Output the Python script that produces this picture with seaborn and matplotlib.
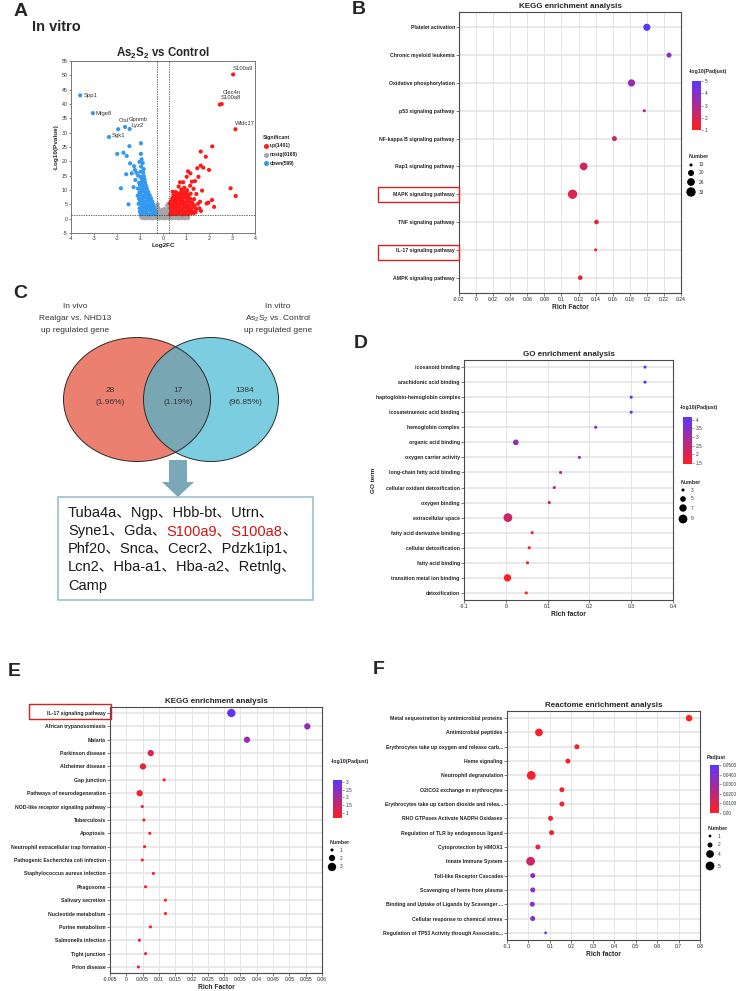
import matplotlib

matplotlib.use("Agg")

import matplotlib.pyplot as plt
import pandas as pd
import seaborn as sns
from matplotlib.cm import ScalarMappable
from matplotlib.colors import LinearSegmentedColormap, Normalize
from matplotlib.patches import Ellipse, Polygon, Rectangle

W, H = 737, 991

# ---------------- A: volcano ----------------
up_fc = [0.31, 0.44, 0.57, 0.70, 0.83, 0.96, 1.09, 1.22,
         0.36, 0.49, 0.62, 0.75, 0.88, 1.01, 1.14, 1.27, 1.42,
         0.33, 0.46, 0.59, 0.72, 0.85, 0.98, 1.11, 1.24, 1.38,
         0.38, 0.51, 0.64, 0.77, 0.90, 1.03, 1.16, 1.29,
         0.34, 0.47, 0.60, 0.73, 0.86, 0.99, 1.12, 1.25,
         0.40, 0.53, 0.66, 0.79, 0.92, 1.05, 1.18,
         0.45, 0.58, 0.71, 0.84, 0.97, 1.10,
         0.55, 0.78, 0.92, 1.02,
         0.42, 0.68, 0.80, 0.93, 1.05, 1.18, 0.74, 0.88, 1.03, 1.25, 1.39, 1.54,
         1.09, 1.19, 1.49, 1.64, 1.75, 2.00, 1.86, 1.64, 2.14, 2.94, 3.16, 2.13,
         1.97, 2.22, 1.65, 1.61, 1.90, 1.45, 1.70, 1.33, 1.52, 1.58, 1.35,
         0.30, 0.50, 0.66, 0.81, 0.94, 1.08, 1.20, 1.33, 1.44, 1.36]
up_logp = [1.5, 1.7, 1.6, 1.8, 1.5, 1.7, 1.6, 1.9,
           2.6, 2.8, 2.7, 2.9, 2.6, 2.8, 2.7, 2.5, 2.3,
           3.7, 3.9, 3.8, 4.0, 3.7, 3.9, 3.8, 3.6, 4.1,
           4.8, 5.0, 4.9, 5.1, 4.8, 5.0, 4.7, 5.2,
           6.0, 6.1, 5.9, 6.2, 6.0, 5.8, 6.1, 5.7,
           7.1, 7.0, 7.2, 7.0, 7.3, 7.1, 6.9,
           8.2, 8.3, 8.1, 8.4, 8.0, 8.2,
           9.3, 9.1, 9.5, 9.0,
           9.4, 11.2, 10.2, 10.8, 9.9, 11.5, 12.7, 12.7, 14.6, 12.9, 13.1, 14.6,
           16.5, 15.8, 17.6, 18.5, 17.8, 17.0, 21.6, 23.4, 25.2, 10.6, 7.9, 6.5,
           5.6, 4.1, 2.7, 5.9, 5.3, 8.6, 9.8, 10.4, 5.2, 3.6, 6.8,
           5.3, 7.6, 8.8, 7.7, 8.9, 7.4, 8.7, 1.9, 3.3, 4.6]

down_fc = [-0.32, -0.45, -0.58, -0.71, -0.84, -0.97,
           -0.35, -0.48, -0.61, -0.74, -0.87, -1.00,
           -0.38, -0.51, -0.64, -0.77, -0.90, -1.02,
           -0.42, -0.55, -0.68, -0.81, -0.94, -1.06,
           -0.47, -0.60, -0.73, -0.86, -0.99,
           -0.52, -0.65, -0.78, -0.91, -1.04,
           -0.58, -0.71, -0.84, -0.97, -1.10,
           -0.64, -0.77, -0.90, -1.03,
           -0.70, -0.83, -0.96, -1.09,
           -0.74, -0.87, -1.00,
           -0.78, -0.91, -1.04,
           -0.80, -0.93,
           -0.83, -0.96, -1.08,
           -0.86, -0.98, -0.84, -0.95, -0.88, -1.02, -0.93,
           -1.46, -0.96, -1.99, -1.72, -1.58, -0.96, -1.43, -1.60, -1.83, -1.50,
           -0.94, -1.26, -1.22, -1.36, -1.15, -1.20, -1.28,
           -0.40, -0.53, -0.66, -0.79, -0.92, -0.70, -0.85, -0.98]
down_logp = [1.6, 1.8, 1.5, 1.7, 1.9, 1.6,
             2.7, 2.6, 2.9, 2.7, 2.8, 2.5,
             3.8, 3.9, 3.7, 4.0, 3.8, 3.6,
             4.9, 5.0, 4.8, 5.1, 4.9, 5.2,
             6.0, 6.2, 5.9, 6.1, 6.0,
             7.1, 7.0, 7.3, 7.1, 6.9,
             8.2, 8.4, 8.1, 8.3, 8.0,
             9.3, 9.2, 9.5, 9.1,
             10.4, 10.6, 10.3, 10.5,
             11.5, 11.4, 11.7,
             12.6, 12.8, 12.5,
             13.7, 13.9,
             14.8, 14.6, 15.0,
             16.0, 16.4, 17.3, 18.2, 19.4, 19.8, 20.7,
             25.3, 26.3, 22.6, 23.0, 21.9, 22.6, 19.3, 15.5, 10.6, 5.0,
             1.7, 18.3, 17.0, 15.8, 16.0, 13.5, 11.0,
             2.2, 3.3, 4.4, 5.6, 6.6, 7.7, 9.8, 12.0]

nosig_fc = [-0.95, -0.85, -0.80, -0.70, -0.62, -0.55, -0.50, -0.45, -0.42, -0.38,
            -0.35, -0.31, -0.29, -0.27, -0.24, -0.22, -0.20, -0.18, -0.15, -0.12,
            -0.10, -0.07, -0.04, 0.00, 0.03, 0.06, 0.09, 0.12, 0.15, 0.17,
            0.20, 0.22, 0.24, 0.26, 0.28, 0.30, 0.33, 0.38, 0.43, 0.50,
            0.56, 0.63, 0.70, 0.78, 0.86, 0.94, 1.02, 1.10, -0.25, 0.18,
            -0.05, 0.05,
            -0.88, -0.74, -0.60, -0.46, -0.32, -0.18, -0.04, 0.10, 0.24, 0.38,
            0.52, 0.66, 0.80, 0.94, 1.08,
            -0.82, -0.68, -0.54, -0.40, -0.26, -0.12, 0.02, 0.16, 0.30, 0.44,
            0.58, 0.72, 0.86, 1.00,
            -0.21, -0.14, -0.08, 0.08, 0.13, 0.21, -0.23, 0.23]
nosig_logp = [0.5, 1.0, 0.3, 0.8, 0.4, 1.1, 0.6, 0.2, 1.3, 0.8,
              2.1, 1.6, 3.0, 0.5, 2.5, 1.2, 3.6, 0.3, 1.8, 0.9,
              2.6, 0.4, 1.4, 0.7, 2.0, 0.3, 1.1, 2.8, 0.6, 1.7,
              3.3, 0.9, 2.3, 4.0, 1.4, 0.4, 1.0, 0.5, 1.1, 0.3,
              0.9, 0.5, 1.0, 0.4, 0.8, 0.3, 0.9, 0.5, 4.4, 4.6,
              3.0, 3.4,
              0.2, 0.1, 0.2, 0.1, 0.2, 0.1, 0.2, 0.1, 0.2, 0.1,
              0.2, 0.1, 0.2, 0.1, 0.2,
              0.8, 0.7, 0.8, 0.7, 0.8, 0.7, 0.8, 0.7, 0.8, 0.7,
              0.8, 0.7, 0.8, 0.7,
              3.0, 2.2, 1.6, 1.7, 2.3, 3.1, 5.0, 5.2]

top_genes = ["Spp1", "Mfge8", "Ctsl", "Gpnmb", "Lyz2", "Sgk1", "S100a9", "Clec4n", "S100a8", "Wfdc17"]
top_fc = [-3.60, -3.05, -1.95, -1.65, -1.45, -2.35, 3.05, 2.55, 2.47, 3.15]
top_logp = [43.0, 36.8, 31.2, 32.0, 31.3, 28.5, 50.3, 40.0, 39.8, 31.2]
top_group = ["down"] * 6 + ["up"] * 4
label_off = [(3, 0), (3, 0), (1, 9), (4, 7), (2, 3), (3, 1), (0, 6), (1, 12), (1, 7), (0, 6)]

group_names = ["up", "nosig", "down"]
group_counts = [1401, 6168, 599]
group_colors = {"up": "#ff1a1a", "nosig": "#a6a6a6", "down": "#3398f0"}

# ---------------- B: KEGG in vitro ----------------
b_terms = ["Platelet activation", "Chronic myeloid leukemia", "Oxidative phosphorylation",
           "p53 signaling pathway", "NF-kappa B signaling pathway", "Rap1 signaling pathway",
           "MAPK signaling pathway", "TNF signaling pathway", "IL-17 signaling pathway",
           "AMPK signaling pathway"]
b_rich = [0.200, 0.226, 0.182, 0.197, 0.162, 0.126, 0.113, 0.141, 0.140, 0.122]
b_num = [24, 17, 24, 13, 17, 26, 33, 16, 13, 16]
b_logpadj = [5.0, 3.8, 3.6, 2.8, 2.3, 2.1, 1.9, 1.5, 1.3, 1.4]

# ---------------- C: Venn ----------------
venn_counts = [28, 17, 1384]
genes = ["Tuba4a", "Ngp", "Hbb-bt", "Utrn", "Syne1", "Gda", "S100a9", "S100a8",
         "Phf20", "Snca", "Cecr2", "Pdzk1ip1", "Lcn2", "Hba-a1", "Hba-a2", "Retnlg", "Camp"]
highlight = {"S100a9", "S100a8"}

# ---------------- D: GO ----------------
d_terms = ["icosanoid binding", "arachidonic acid binding", "haptoglobin-hemoglobin complex",
           "icosatetraenoic acid binding", "hemoglobin complex", "organic acid binding",
           "oxygen carrier activity", "long-chain fatty acid binding",
           "cellular oxidant detoxification", "oxygen binding", "extracellular space",
           "fatty acid derivative binding", "cellular detoxification", "fatty acid binding",
           "transition metal ion binding", "detoxification"]
d_rich = [0.333, 0.333, 0.300, 0.300, 0.215, 0.024, 0.176, 0.131, 0.116, 0.104, 0.005,
          0.063, 0.056, 0.052, 0.004, 0.049]
d_num = [3, 3, 3, 3, 3, 5, 3, 3, 3, 3, 9, 3, 3, 3, 7, 3]
d_logpadj = [4.1, 4.1, 3.95, 3.95, 3.5, 3.3, 3.3, 2.8, 2.6, 2.5, 2.3, 1.8, 1.7, 1.6, 1.5, 1.5]

# ---------------- E: KEGG in vivo ----------------
e_terms = ["IL-17 signaling pathway", "African trypanosomiasis", "Malaria", "Parkinson disease",
           "Alzheimer disease", "Gap junction", "Pathways of neurodegeneration",
           "NOD-like receptor signaling pathway", "Tuberculosis", "Apoptosis",
           "Neutrophil extracellular trap formation", "Pathogenic Escherichia coli infection",
           "Staphylococcus aureus infection", "Phagosome", "Salivary secretion",
           "Nucleotide metabolism", "Purine metabolism", "Salmonella infection",
           "Tight junction", "Prion disease"]
e_rich = [0.0322, 0.0555, 0.0370, 0.0075, 0.0051, 0.0116, 0.0041, 0.0049, 0.0054, 0.0072,
          0.0056, 0.0049, 0.0083, 0.0059, 0.0120, 0.0120, 0.0074, 0.0040, 0.0059, 0.0037]
e_num = [3, 2, 2, 2, 2, 1, 2, 1, 1, 1, 1, 1, 1, 1, 1, 1, 1, 1, 1, 1]
e_logpadj = [3.1, 2.3, 2.2, 1.2, 1.0, 0.8, 0.8, 0.7, 0.7, 0.7, 0.7, 0.7, 0.7, 0.7, 0.7,
             0.7, 0.7, 0.7, 0.7, 0.7]

# ---------------- F: Reactome ----------------
f_terms = ["Metal sequestration by antimicrobial proteins", "Antimicrobial peptides",
           "Erythrocytes take up oxygen and release carb...", "Heme signaling",
           "Neutrophil degranulation", "O2/CO2 exchange in erythrocytes",
           "Erythrocytes take up carbon dioxide and relea...", "RHO GTPases Activate NADPH Oxidases",
           "Regulation of TLR by endogenous ligand", "Cytoprotection by HMOX1",
           "Innate Immune System", "Toll-like Receptor Cascades", "Scavenging of heme from plasma",
           "Binding and Uptake of Ligands by Scavenger ...", "Cellular response to chemical stress",
           "Regulation of TP53 Activity through Associatio..."]
f_rich = [0.749, 0.049, 0.226, 0.184, 0.013, 0.156, 0.156, 0.103, 0.108, 0.044, 0.010,
          0.020, 0.020, 0.018, 0.020, 0.080]
f_num = [3, 4, 2, 2, 5, 2, 2, 2, 2, 2, 5, 2, 2, 2, 2, 1]
f_padj = [0.001, 0.002, 0.003, 0.003, 0.002, 0.004, 0.004, 0.006, 0.006, 0.008, 0.015,
          0.035, 0.035, 0.035, 0.035, 0.048]

sns.set_theme(style="white")
plt.rcParams["font.family"] = ["Liberation Sans", "Noto Sans CJK SC", "DejaVu Sans"]
plt.rcParams["mathtext.fontset"] = "custom"
plt.rcParams["mathtext.rm"] = "Liberation Sans"
plt.rcParams["mathtext.bf"] = "Liberation Sans:bold"
plt.rcParams["mathtext.it"] = "Liberation Sans:italic"
plt.rcParams["axes.unicode_minus"] = False

CMAP = LinearSegmentedColormap.from_list("red_blue", ["#ff1f1f", "#5b36ff"])

fig = plt.figure(figsize=(W / 100, H / 100), dpi=100)
fig.patch.set_facecolor("white")


def add_px(left, top, width, height):
    return fig.add_axes([left / W, 1 - (top + height) / H, width / W, height / H])


def area(n, sizes, size_norm):
    lo, hi = size_norm
    return sizes[0] + (n - lo) / (hi - lo) * (sizes[1] - sizes[0])


# ---------------- panel A ----------------
ax = add_px(71, 61, 184, 172)
vol = pd.DataFrame({
    "fc": nosig_fc + down_fc + up_fc + top_fc,
    "logp": nosig_logp + down_logp + up_logp + top_logp,
    "group": ["nosig"] * len(nosig_fc) + ["down"] * len(down_fc) + ["up"] * len(up_fc) + top_group,
})
sns.scatterplot(data=vol, x="fc", y="logp", hue="group", palette=group_colors, s=9,
                linewidth=0, legend=False, ax=ax, zorder=3)
for g, x, y, (dx, dy) in zip(top_genes, top_fc, top_logp, label_off):
    ax.annotate(g, (x, y), xytext=(dx, dy), textcoords="offset pixels", fontsize=4.2,
                color="#333333", ha="left", va="center")
for v in (-0.263, 0.263):
    ax.axvline(v, color="#333333", lw=0.5, ls=(0, (2, 1.5)), zorder=4)
ax.axhline(1.301, color="#333333", lw=0.5, ls=(0, (2, 1.5)), zorder=4)
ax.set_xlim(-4, 4)
ax.set_ylim(-5, 55)
ax.set_xticks(range(-4, 5))
ax.set_yticks(range(-5, 56, 5))
ax.tick_params(bottom=True, left=True, length=1.5, width=0.5, pad=1, labelsize=3.8,
               colors="#555555", labelcolor="#333333")
for s in ax.spines.values():
    s.set_color("#777777")
    s.set_linewidth(0.7)
ax.set_xlabel("Log2FC", fontsize=4.6, fontweight="bold", labelpad=1)
ax.set_ylabel("-Log10(Pvalue)", fontsize=4.6, fontweight="bold", labelpad=2)
ax.set_title(r"As$_\mathbf{2}$S$_\mathbf{2}$ vs Control", fontsize=8.3, fontweight="bold", pad=3)


# ---------------- bubble panels ----------------
def bubble(rect, terms, rich, num, col, hue_norm, sizes, size_norm, xlim, xticks,
           xlabel, title, pad):
    bx = add_px(*rect)
    df = pd.DataFrame({"term": terms, "rich": rich, "num": num, "col": col})
    sns.scatterplot(data=df, x="rich", y="term", hue="col", size="num", palette=CMAP,
                    hue_norm=hue_norm, sizes=sizes, size_norm=size_norm, linewidth=0,
                    legend=False, ax=bx, zorder=3)
    n = len(terms)
    bx.set_ylim(n - 1 + pad, -pad)
    bx.set_xlim(*xlim)
    bx.set_xticks(xticks)
    bx.set_xticklabels([f"{v:g}" for v in xticks])
    bx.grid(axis="x", color="#dadada", lw=0.5)
    bx.grid(axis="y", color="#e3e3e3", lw=1.1)
    bx.set_axisbelow(True)
    for s in bx.spines.values():
        s.set_visible(True)
        s.set_color("#4a4a4a")
        s.set_linewidth(0.8)
    bx.tick_params(bottom=True, left=True, length=2, width=0.5, pad=1, colors="#4a4a4a",
                   labelcolor="#222222")
    bx.tick_params(axis="x", labelsize=3.6)
    bx.tick_params(axis="y", labelsize=3.7)
    plt.setp(bx.get_yticklabels(), fontweight="bold")
    bx.set_xlabel(xlabel, fontsize=4.8, fontweight="bold", labelpad=1.5)
    bx.set_ylabel("")
    bx.set_title(title, fontsize=5.8, fontweight="bold", pad=3)
    return bx


def colorbar(rect, norm, ticks, labels):
    cax = add_px(*rect)
    cb = fig.colorbar(ScalarMappable(norm=Normalize(*norm), cmap=CMAP), cax=cax)
    cb.outline.set_visible(False)
    cb.set_ticks(ticks)
    cb.set_ticklabels(labels)
    cax.tick_params(labelsize=3.4, length=1.5, width=0.4, pad=1, colors="#444444",
                    labelcolor="#333333")


B_SIZES, B_NORM = (5, 45), (13, 33)
bubble((459, 12, 222, 281), b_terms, b_rich, b_num, b_logpadj, (1, 5), B_SIZES, B_NORM,
       (-0.02, 0.24), [-0.02, 0, 0.02, 0.04, 0.06, 0.08, 0.1, 0.12, 0.14, 0.16, 0.18, 0.2, 0.22, 0.24],
       "Rich Factor", "KEGG enrichment analysis", 0.55)
colorbar((692, 81, 9, 49), (1, 5), [1, 2, 3, 4, 5], ["1", "2", "3", "4", "5"])

D_SIZES, D_NORM = (5, 40), (3, 9)
dx_ax = bubble((464, 360, 209, 240), d_terms, d_rich, d_num, d_logpadj, (1.45, 4.15), D_SIZES,
               D_NORM, (-0.1, 0.4), [-0.1, 0, 0.1, 0.2, 0.3, 0.4], "Rich factor",
               "GO enrichment analysis", 0.47)
dx_ax.set_ylabel("GO term", fontsize=4.6, fontweight="bold")
dx_ax.yaxis.set_label_coords(-0.42, 0.5)
colorbar((683, 417, 9, 47), (1.45, 4.15), [1.5, 2, 2.5, 3, 3.5, 4],
         ["1.5", "2", "2.5", "3", "3.5", "4"])

E_SIZES, E_NORM = (5, 36), (1, 3)
bubble((110, 707, 212, 266), e_terms, e_rich, e_num, e_logpadj, (0.65, 3.15), E_SIZES, E_NORM,
       (-0.005, 0.06), [-0.005, 0, 0.005, 0.01, 0.015, 0.02, 0.025, 0.03, 0.035, 0.04, 0.045,
                        0.05, 0.055, 0.06],
       "Rich Factor", "KEGG enrichment analysis", 0.45)
colorbar((333, 780, 9, 38), (0.65, 3.15), [1, 1.5, 2, 2.5, 3], ["1", "1.5", "2", "2.5", "3"])

F_SIZES, F_NORM = (4, 40), (1, 5)
bubble((507, 711, 193, 229), f_terms, f_rich, f_num, f_padj, (0, 0.05), F_SIZES, F_NORM,
       (-0.1, 0.8), [-0.1, 0, 0.1, 0.2, 0.3, 0.4, 0.5, 0.6, 0.7, 0.8], "Rich factor",
       "Reactome enrichment analysis", 0.5)
colorbar((710, 765, 9, 48), (0, 0.05), [0, 0.01, 0.02, 0.03, 0.04, 0.05],
         ["0.00", "0.0100", "0.0200", "0.0300", "0.0400", "0.0500"])

# ---------------- overlay: letters, legends, venn ----------------
ov = fig.add_axes([0, 0, 1, 1])
ov.set_xlim(0, W)
ov.set_ylim(H, 0)
ov.axis("off")

for letter, x, y in [("A", 14, 11), ("B", 352, 10), ("C", 13, 294), ("D", 354, 343),
                     ("E", 8, 671), ("F", 373, 669)]:
    ov.text(x, y, letter, fontsize=14, fontweight="bold", ha="left", va="center")
ov.text(32, 27, "In vitro", fontsize=10.5, fontweight="bold", ha="left", va="center")

# volcano legend
ov.text(263, 137, "Significant", fontsize=3.8, fontweight="bold", va="center")
for i, (g, c) in enumerate(zip(group_names, group_counts)):
    yy = 146 + i * 8.5
    ov.scatter([266], [yy], s=13, color=group_colors[g], linewidths=0)
    ov.text(270, yy, f"{g}({c})", fontsize=3.6, fontweight="bold", va="center", color="#222222")


def size_legend(x, y_title, ys, values, sizes, size_norm):
    ov.text(x - 2, y_title, "Number", fontsize=3.8, fontweight="bold", va="center")
    ov.scatter([x] * len(values), ys, s=[area(v, sizes, size_norm) for v in values],
               color="black", linewidths=0)
    for v, yy in zip(values, ys):
        ov.text(x + 8, yy, str(v), fontsize=3.5, va="center", color="#333333")


ov.text(689, 72, "-log10(Padjust)", fontsize=3.8, fontweight="bold", va="center")
size_legend(691, 157, [165, 173, 182, 192], [13, 20, 26, 33], B_SIZES, B_NORM)
ov.text(680, 407, "-log10(Padjust)", fontsize=3.8, fontweight="bold", va="center")
size_legend(683, 482, [490, 499, 508, 519], [3, 5, 7, 9], D_SIZES, D_NORM)
ov.text(331, 762, "-log10(Padjust)", fontsize=3.8, fontweight="bold", va="center")
size_legend(332, 842, [850, 858, 867], [1, 2, 3], E_SIZES, E_NORM)
ov.text(707, 757, "Padjust", fontsize=3.8, fontweight="bold", va="center")
size_legend(710, 828, [836, 845, 854, 866], [1, 2, 4, 5], F_SIZES, F_NORM)

# red highlight boxes
for (x, y, w, h) in [(378, 187, 81, 15), (378, 245, 81, 15), (29, 704, 82, 15)]:
    ov.add_patch(Rectangle((x, y), w, h, fill=False, ec="#d32222", lw=1.0))

# venn
left = Ellipse((137, 399.5), 147, 124, fc="#eb8070", ec="none")
right = Ellipse((211, 399.5), 135, 124, fc="#7dcde1", ec="none")
ov.add_patch(left)
ov.add_patch(right)
inter = Ellipse((211, 399.5), 135, 124, fc="#78a6b3", ec="none")
ov.add_patch(inter)
inter.set_clip_path(left)
for e in [Ellipse((137, 399.5), 147, 124), Ellipse((211, 399.5), 135, 124)]:
    e.set_fill(False)
    e.set_edgecolor("#2b2b2b")
    e.set_linewidth(0.7)
    ov.add_patch(e)

total = sum(venn_counts)
for x, c in zip([110, 178, 245], venn_counts):
    ov.text(x, 391, str(c), fontsize=6, ha="center", va="center", color="#333333")
    ov.text(x, 402, f"({c / total * 100:.2f}%)", fontsize=6, ha="center", va="center",
            color="#333333")
for x, lines in [(75, ["In vivo", "Realgar vs. NHD13", "up regulated gene"]),
                 (278, ["In vitro", r"As$_2$S$_2$ vs. Control", "up regulated gene"])]:
    for k, s in enumerate(lines):
        ov.text(x, 307 + k * 11.5, s, fontsize=6, ha="center", va="center", color="#333333")

ov.add_patch(Polygon([(169, 460), (187, 460), (187, 482), (194, 482), (178, 497), (162, 482),
                      (169, 482)], closed=True, fc="#7aa8b9", ec="none"))
ov.add_patch(Rectangle((58, 497), 255, 103, fc="white", ec="#8fbcc8", lw=1.1))

renderer = fig.canvas.get_renderer()
rows = [genes[i:i + 4] for i in range(0, len(genes), 4)]
idx = 0
for r, row in enumerate(rows):
    segs = []
    for g in row:
        col = "#cc1414" if g in highlight else "#1a1a1a"
        segs.append((g, col))
        if idx < len(genes) - 1:
            nxt = genes[idx + 1]
            sep_col = "#cc1414" if (g in highlight and nxt in highlight) else "#1a1a1a"
            segs.append(("\u3001", sep_col))
        idx += 1
    merged = []
    for s, c in segs:
        if merged and merged[-1][1] == c:
            merged[-1] = (merged[-1][0] + s, c)
        else:
            merged.append((s, c))
    x = 68
    y = 512.5 + r * 18.3
    for s, c in merged:
        t = ov.text(x, y, s, fontsize=10.5, color=c, ha="left", va="center")
        x += t.get_window_extent(renderer=renderer).width

fig.savefig("out.png", dpi=100, facecolor="white")
